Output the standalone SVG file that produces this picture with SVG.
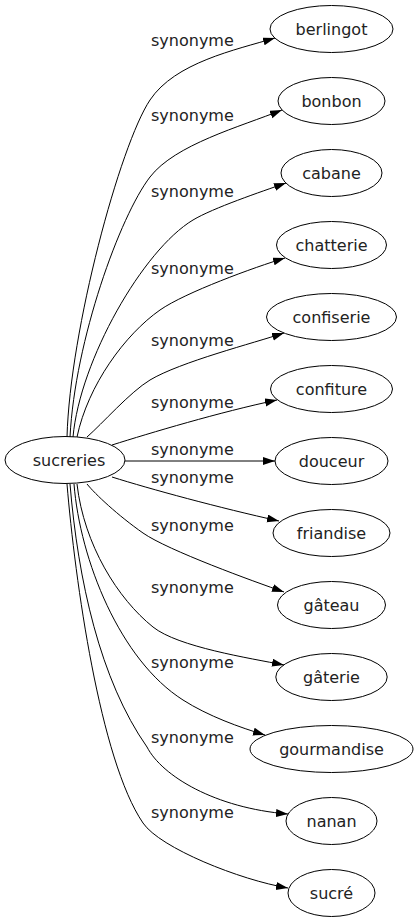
<svg xmlns="http://www.w3.org/2000/svg" width="419" height="923" viewBox="0 0 419 923">
<style>
.n ellipse{fill:none;stroke:#000;stroke-width:1}
text{font-family:"DejaVu Sans",sans-serif;font-size:16px;fill:#222}
.n text{text-anchor:middle}
.e path{fill:none;stroke:#000;stroke-width:1;marker-end:url(#ah)}
</style>
<defs>
<marker id="ah" markerUnits="userSpaceOnUse" markerWidth="13" markerHeight="9" refX="12" refY="4" orient="auto">
<path d="M0,0 L12,4 L0,8 z" fill="#000"/>
</marker>
</defs>
<rect width="419" height="923" fill="#fff"/>
<g class="e" id="edges">
<path d="M67,437 C70,330 120,145 150,100 C175,62.5 235,50 275,38"/>
<path d="M70,437 C75,340 120,216 150,177 C175,144.5 240,126.8 282,110"/>
<path d="M73,437 C80,360 143,250 193,220 C213,208 261,191.75 286,183"/>
<path d="M77,437 C88,385 125,334.5 160,310 C185,292.5 255,267 285,258"/>
<path d="M87,437 C102,424 130,392 150,380 C180,362 254,343 284,333"/>
<path d="M112,445 C150,433 220,412 277,400"/>
<path d="M125,461 L275,461"/>
<path d="M112,477 C150,489 220,508 279,521"/>
<path d="M87,484 C95,494 118,515.5 143,533 C168,550.5 254,581.5 284,592"/>
<path d="M77,484 C84,545 118,599 153,627 C178,647 249,658 284,665"/>
<path d="M74,484 C80,560 120,660 183,700 C208,716 240,727.5 265,735"/>
<path d="M70,484 C78,580 100,680 147,747 C162,776 215,808 288,814"/>
<path d="M67,484 C75,580 100,760 143,823 C160,848 240,880 288,888"/>
</g>
<g id="labels">
<text x="151" y="46">synonyme</text>
<text x="151" y="121">synonyme</text>
<text x="151" y="197">synonyme</text>
<text x="151" y="274">synonyme</text>
<text x="151" y="346">synonyme</text>
<text x="151" y="408">synonyme</text>
<text x="151" y="455">synonyme</text>
<text x="151" y="483">synonyme</text>
<text x="151" y="531">synonyme</text>
<text x="151" y="593">synonyme</text>
<text x="151" y="668">synonyme</text>
<text x="151" y="743">synonyme</text>
<text x="151" y="818">synonyme</text>
</g>
<g class="n" id="sucreries"><ellipse cx="65" cy="460" rx="60" ry="23.5"/><text x="69" y="466">sucreries</text></g>
<g class="n" id="berlingot"><ellipse cx="331.5" cy="29" rx="61.5" ry="23.5"/><text x="331.5" y="34.5">berlingot</text></g>
<g class="n" id="bonbon"><ellipse cx="331.5" cy="101" rx="53.5" ry="23.5"/><text x="331.5" y="106.5">bonbon</text></g>
<g class="n" id="cabane"><ellipse cx="331.5" cy="173" rx="50.5" ry="23.5"/><text x="331.5" y="178.5">cabane</text></g>
<g class="n" id="chatterie"><ellipse cx="331.5" cy="245" rx="55" ry="23.5"/><text x="331.5" y="250.5">chatterie</text></g>
<g class="n" id="confiserie"><ellipse cx="331.5" cy="317" rx="65" ry="23.5"/><text x="331.5" y="322.5">confiserie</text></g>
<g class="n" id="confiture"><ellipse cx="331.5" cy="389" rx="61" ry="23.5"/><text x="331.5" y="394.5">confiture</text></g>
<g class="n" id="douceur"><ellipse cx="331.5" cy="461" rx="56.5" ry="23.5"/><text x="331.5" y="466.5">douceur</text></g>
<g class="n" id="friandise"><ellipse cx="331.5" cy="533" rx="58.5" ry="23.5"/><text x="331.5" y="538.5">friandise</text></g>
<g class="n" id="gateau"><ellipse cx="331.5" cy="605" rx="54" ry="23.5"/><text x="331.5" y="610.5">gâteau</text></g>
<g class="n" id="gaterie"><ellipse cx="331.5" cy="677" rx="55.7" ry="23.5"/><text x="331.5" y="682.5">gâterie</text></g>
<g class="n" id="gourmandise"><ellipse cx="331.5" cy="749" rx="81.5" ry="23.5"/><text x="331.5" y="754.5">gourmandise</text></g>
<g class="n" id="nanan"><ellipse cx="331.5" cy="821" rx="45.5" ry="23.5"/><text x="331.5" y="826.5">nanan</text></g>
<g class="n" id="sucre"><ellipse cx="331.5" cy="893" rx="43.5" ry="23.5"/><text x="331.5" y="898.5">sucré</text></g>
</svg>
